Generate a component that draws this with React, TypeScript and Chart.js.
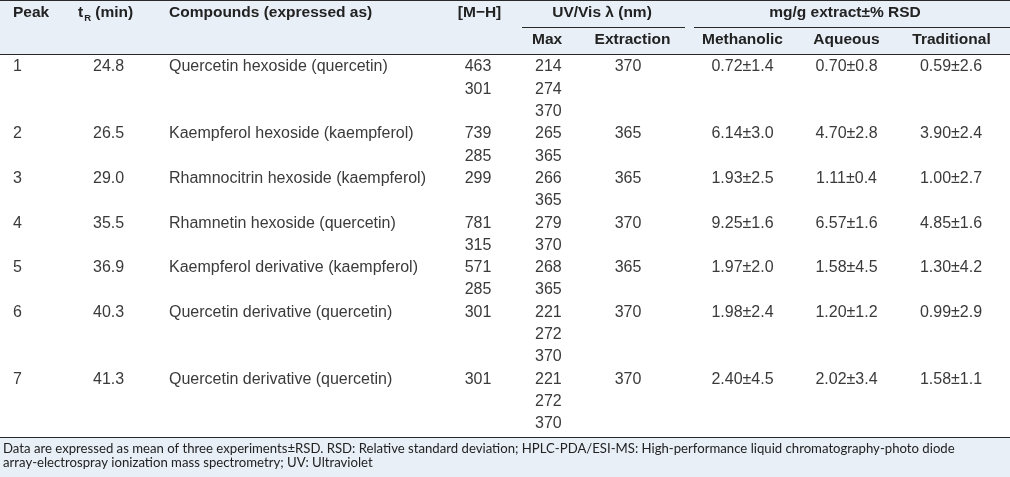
import React, { useEffect, useRef } from "react";
import { Chart, registerables } from "chart.js";

Chart.register(...registerables);

// ---------- data ----------
const peaks = [1, 2, 3, 4, 5, 6, 7];
const retentionTimes = ["24.8", "26.5", "29.0", "35.5", "36.9", "40.3", "41.3"];
const compounds = [
  "Quercetin hexoside (quercetin)",
  "Kaempferol hexoside (kaempferol)",
  "Rhamnocitrin hexoside (kaempferol)",
  "Rhamnetin hexoside (quercetin)",
  "Kaempferol derivative (kaempferol)",
  "Quercetin derivative (quercetin)",
  "Quercetin derivative (quercetin)",
];
const massIons = [[463, 301], [739, 285], [299], [781, 315], [571, 285], [301], [301]];
const uvMax = [
  [214, 274, 370],
  [265, 365],
  [266, 365],
  [279, 370],
  [268, 365],
  [221, 272, 370],
  [221, 272, 370],
];
const extractionWavelength = [370, 365, 365, 370, 365, 370, 370];
const methanolicMean = [0.72, 6.14, 1.93, 9.25, 1.97, 1.98, 2.4];
const methanolicRsd = [1.4, 3.0, 2.5, 1.6, 2.0, 2.4, 4.5];
const aqueousMean = [0.7, 4.7, 1.11, 6.57, 1.58, 1.2, 2.02];
const aqueousRsd = [0.8, 2.8, 0.4, 1.6, 4.5, 1.2, 3.4];
const traditionalMean = [0.59, 3.9, 1.0, 4.85, 1.3, 0.99, 1.58];
const traditionalRsd = [2.6, 2.4, 2.7, 1.6, 4.2, 2.9, 1.1];

const headerPeak = "Peak";
const headerCompound = "Compounds (expressed as)";
const headerMass = "[M\u2212H]";
const headerUvGroup = "UV/Vis \u03bb (nm)";
const headerUvSub = ["Max", "Extraction"];
const headerExtractGroup = "mg/g extract\u00b1% RSD";
const headerExtractSub = ["Methanolic", "Aqueous", "Traditional"];
const footnoteLines = [
  "Data are expressed as mean of three experiments\u00b1RSD. RSD: Relative standard deviation; HPLC-PDA/ESI-MS: High-performance liquid chromatography-photo diode",
  "array-electrospray ionization mass spectrometry; UV: Ultraviolet",
];

// ---------- layout / style ----------
const W = 1010;
const H = 477;
const FIRST_LINE_PX = 67;
const LINE_H = 22.3;
const HEADER_ROW1_PX = 13;
const HEADER_ROW2_PX = 40;
const GROUP_RULE_PX = 27;
const HEADER_RULE_PX = 54;
const FOOTER_RULE_PX = 437;
const FOOTER_LINE_PX = [449, 463];
const FOOTER_FIT_TEXT = "Data are expressed as mean of three experiments\u00b1RSD. RSD: Relative standard deviation;";
const FOOTER_FIT_WIDTH = 516;

const BG = "#e8eff7";
const RULE = "#2a2a2a";
const HEAD_COLOR = "#222222";
const BODY_COLOR = "#3a3a3a";
const HEAD_FONT = "bold 15.5px 'Liberation Sans', Arial, sans-serif";
const SUB_FONT = "bold 9.5px 'Liberation Sans', Arial, sans-serif";
const BODY_FONT = "16px 'Liberation Sans', Arial, sans-serif";
const FOOT_FAMILY = "Lato, 'Open Sans', sans-serif";

const toLine = (px: number) => (px - FIRST_LINE_PX) / LINE_H;

const tablePlugin = {
  id: "tablePlugin",
  beforeDraw(chart: any) {
    const ctx = chart.ctx as CanvasRenderingContext2D;
    const xs = chart.scales.x;
    const ys = chart.scales.y;
    const X = (v: number) => xs.getPixelForValue(v);
    const Y = (v: number) => ys.getPixelForValue(v);
    ctx.save();
    ctx.fillStyle = "#ffffff";
    ctx.fillRect(X(0), Y(toLine(0)), X(W) - X(0), Y(toLine(H)) - Y(toLine(0)));
    ctx.fillStyle = BG;
    ctx.fillRect(X(0), Y(toLine(0)), X(W) - X(0), Y(toLine(HEADER_RULE_PX)) - Y(toLine(0)));
    ctx.fillRect(X(0), Y(toLine(FOOTER_RULE_PX)), X(W) - X(0), Y(toLine(H)) - Y(toLine(FOOTER_RULE_PX)));
    ctx.restore();
  },
  afterDraw(chart: any) {
    const ctx = chart.ctx as CanvasRenderingContext2D;
    const xs = chart.scales.x;
    const ys = chart.scales.y;
    const X = (v: number) => xs.getPixelForValue(v);
    const Y = (v: number) => ys.getPixelForValue(v);
    const PY = (px: number) => Y(toLine(px));

    ctx.save();
    // rules
    ctx.fillStyle = RULE;
    const hRule = (x0: number, x1: number, px: number, t = 1) =>
      ctx.fillRect(X(x0), Math.round(PY(px)), X(x1) - X(x0), t);
    hRule(0, W, 0, 1);
    hRule(522, 685, GROUP_RULE_PX);
    hRule(694, W, GROUP_RULE_PX);
    hRule(0, W, HEADER_RULE_PX);
    hRule(0, W, FOOTER_RULE_PX);

    const text = (s: string, x: number, yPix: number, align: CanvasTextAlign) => {
      ctx.textAlign = align;
      ctx.fillText(s, X(x), yPix);
    };

    // header
    ctx.textBaseline = "middle";
    ctx.fillStyle = HEAD_COLOR;
    ctx.font = HEAD_FONT;
    const h1 = PY(HEADER_ROW1_PX);
    const h2 = PY(HEADER_ROW2_PX);
    text(headerPeak, 13, h1, "left");
    // t_R (min)
    ctx.textAlign = "left";
    ctx.fillText("t", X(78), h1);
    const tw = ctx.measureText("t").width;
    ctx.font = SUB_FONT;
    ctx.fillText("R", X(78) + tw + 1, h1 + 5);
    const rw = ctx.measureText("R").width;
    ctx.font = HEAD_FONT;
    ctx.fillText(" (min)", X(78) + tw + 1 + rw, h1);
    text(headerCompound, 169, h1, "left");
    text(headerMass, 479.5, h1, "center");
    text(headerUvGroup, 602, h1, "center");
    text(headerExtractGroup, 845, h1, "center");
    text(headerUvSub[0], 532, h2, "left");
    text(headerUvSub[1], 632.5, h2, "center");
    text(headerExtractSub[0], 742.5, h2, "center");
    text(headerExtractSub[1], 846.5, h2, "center");
    text(headerExtractSub[2], 951.5, h2, "center");

    // body
    ctx.fillStyle = BODY_COLOR;
    ctx.font = BODY_FONT;
    let line = 0;
    peaks.forEach((p, i) => {
      const y0 = Y(line);
      text(String(p), 13, y0, "left");
      text(retentionTimes[i], 93, y0, "left");
      text(compounds[i], 169, y0, "left");
      massIons[i].forEach((m, k) => text(String(m), 478, Y(line + k), "center"));
      uvMax[i].forEach((m, k) => text(String(m), 535, Y(line + k), "left"));
      text(String(extractionWavelength[i]), 628, y0, "center");
      text(`${methanolicMean[i].toFixed(2)}\u00b1${methanolicRsd[i].toFixed(1)}`, 742.5, y0, "center");
      text(`${aqueousMean[i].toFixed(2)}\u00b1${aqueousRsd[i].toFixed(1)}`, 846.5, y0, "center");
      text(`${traditionalMean[i].toFixed(2)}\u00b1${traditionalRsd[i].toFixed(1)}`, 951, y0, "center");
      line += Math.max(massIons[i].length, uvMax[i].length, 1);
    });

    // footnote
    ctx.fillStyle = HEAD_COLOR;
    ctx.font = `13px ${FOOT_FAMILY}`;
    const w13 = ctx.measureText(FOOTER_FIT_TEXT).width;
    const size = (13 * FOOTER_FIT_WIDTH) / w13;
    ctx.font = `${size.toFixed(2)}px ${FOOT_FAMILY}`;
    footnoteLines.forEach((s, k) => text(s, 3, PY(FOOTER_LINE_PX[k]), "left"));
    ctx.restore();
  },
};

export default function App() {
  const ref = useRef<HTMLCanvasElement | null>(null);
  useEffect(() => {
    if (!ref.current) return;
    const chart = new Chart(ref.current, {
      type: "scatter",
      data: { datasets: [] },
      options: {
        animation: false,
        responsive: false,
        devicePixelRatio: 1,
        layout: { padding: 0 },
        plugins: { legend: { display: false }, tooltip: { enabled: false } },
        events: [],
        scales: {
          x: { type: "linear", min: 0, max: W, display: false },
          y: { type: "linear", reverse: true, min: toLine(0), max: toLine(H), display: false },
        },
      },
      plugins: [tablePlugin],
    });
    return () => chart.destroy();
  }, []);
  return (
    <div style={{ position: "fixed", left: 0, top: 0, width: W, height: H, background: "#fff" }}>
      <canvas ref={ref} width={W} height={H} style={{ width: W, height: H, display: "block" }} />
    </div>
  );
}
